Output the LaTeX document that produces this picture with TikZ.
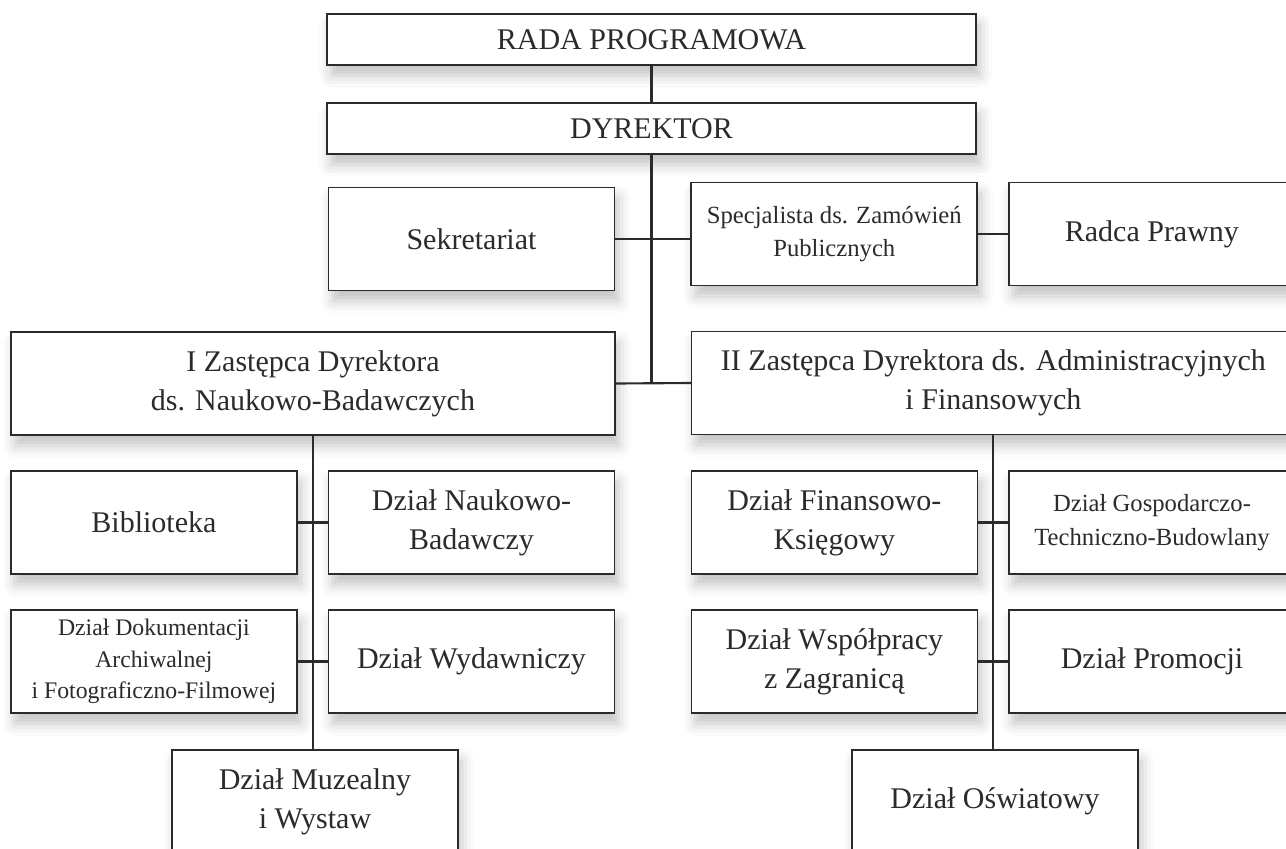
\documentclass[tikz,border=0pt]{standalone}
\usepackage{fontspec}
\setmainfont{Liberation Serif}
\usepackage{tikz}
\usetikzlibrary{positioning, shadows.blur}

\definecolor{ink}{HTML}{2B2B2B}

\begin{document}
\begin{tikzpicture}[x=0.75pt, y=-0.75pt]
    \tikzstyle{unit} = [rectangle,draw=ink,line width=1.3pt,fill=white,text=ink,inner sep=0pt,outer sep=0pt,
        minimum width=214.5pt,minimum height=77.25pt,align=center,
        font=\fontsize{22.5}{29}\selectfont,
        blur shadow={shadow xshift=3pt,shadow yshift=-8pt,shadow blur radius=9pt,shadow opacity=24}]
    \tikzstyle{wide} = [unit,minimum width=486.75pt,minimum height=38.25pt]
    \tikzstyle{deputy} = [unit,minimum width=453pt]
    \tikzstyle{small} = [font=\fontsize{18.5}{25}\selectfont]
    \tikzstyle{link} = [draw=ink,line width=1.6pt]

    \useasboundingbox (0,0) rectangle (1286,849);
    \clip (0,0) rectangle (1286,849);

    \node (rada) [wide] at (651.5,39.5) {RADA PROGRAMOWA};
    \node (dyr) [wide, below=28.5pt of rada] {DYREKTOR};

    \node (sekr) [unit] at (471.5,239) {Sekretariat};
    \node (spec) [unit, small] at (834.3,234) {Specjalista ds. Zamówień\\Publicznych};
    \node (radca) [unit, right=23.7pt of spec] {Radca Prawny};

    \node (zast1) [deputy] at (313,383.5) {I Zastępca Dyrektora\\ds. Naukowo-Badawczych};
    \node (zast2) [deputy] at (993.4,383) {II Zastępca Dyrektora ds. Administracyjnych\\i Finansowych};

    \node (bib) [unit] at (153.9,522.5) {Biblioteka};
    \node (nauk) [unit, right=23.7pt of bib] {Dział Naukowo-\\Badawczy};
    \node (dok) [unit, font=\fontsize{17.8}{23.6}\selectfont] at (153.9,661.5) {Dział Dokumentacji\\Archiwalnej\\i Fotograficzno-Filmowej};
    \node (wyd) [unit, right=23.7pt of dok] {Dział Wydawniczy};
    \node (muz) [unit] at (315,801.5) {Dział Muzealny\\i Wystaw};

    \node (fin) [unit] at (834.4,522.5) {Dział Finansowo-\\Księgowy};
    \node (gosp) [unit, small, right=23.7pt of fin] {Dział Gospodarczo-\\Techniczno-Budowlany};
    \node (wsp) [unit] at (834.4,661.5) {Dział Współpracy\\z Zagranicą};
    \node (prom) [unit, right=23.7pt of wsp] {Dział Promocji};
    \node (osw) [unit] at (995,801.5) {Dział Oświatowy};

    % top of the tree
    \draw [link] (rada.south) -- (dyr.north);
    \draw [link] (dyr.south) -- (dyr.south |- zast1.east);
    \draw [link] (sekr.east) -- (spec.west |- sekr.east);
    \draw [link] (spec.east) -- (radca.west);
    \draw [link] (zast1.east) -- (zast2.west);

    % left branch
    \draw [link] (zast1.south) -- (zast1.south |- muz.north);
    \draw [link] (bib.east) -- (nauk.west);
    \draw [link] (dok.east) -- (wyd.west);

    % right branch
    \draw [link] (zast2.south) -- (zast2.south |- osw.north);
    \draw [link] (fin.east) -- (gosp.west);
    \draw [link] (wsp.east) -- (prom.west);
\end{tikzpicture}
\end{document}
